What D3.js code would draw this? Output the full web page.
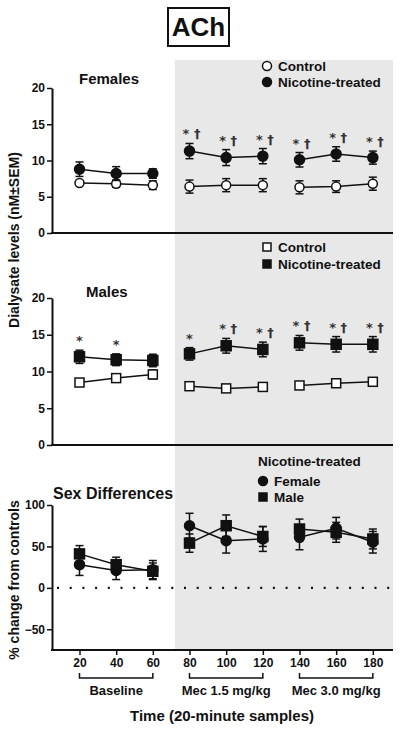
<!DOCTYPE html>
<html><head><meta charset="utf-8">
<script src="https://cdn.jsdelivr.net/npm/d3@7"></script>
<style>body{margin:0;background:#fff}svg{display:block}text{font-family:Arial,"Liberation Sans",sans-serif;font-weight:bold;fill:#111}</style>
</head><body><svg id="c" width="400" height="730"></svg>
<script>
const times = [20,40,60,80,100,120,140,160,180];
const femaleControl = [6.9,6.8,6.6,6.4,6.6,6.6,6.3,6.4,6.8];
const femaleControlErr = [0.3,0.5,0.6,0.9,0.9,0.9,0.9,0.8,0.9];
const femaleNic = [8.8,8.2,8.2,11.3,10.4,10.6,10.1,10.9,10.4];
const femaleNicErr = [1.0,0.95,0.65,1.05,1.1,1.05,1.0,1.0,0.9];
const femaleSig = ["","","","*†","*†","*†","*†","*†","*†"];
const maleControl = [8.5,9.1,9.6,8.0,7.7,7.9,8.1,8.4,8.6];
const maleControlErr = [0.3,0.5,0.6,0.3,0.2,0.2,0.2,0.2,0.2];
const maleNic = [12.0,11.6,11.5,12.4,13.5,13.0,13.9,13.7,13.7];
const maleNicErr = [0.9,0.8,0.85,0.85,1.0,1.0,1.0,1.05,1.05];
const maleSig = ["*","*","","*","*†","*†","*†","*†","*†"];
const femalePct = [28,21,22,75,57,59,61,72,55];
const femalePctErr = [13,11,11,15,15,15,15,13,13];
const malePct = [41,28,20,54,75,62,71,67,59];
const malePctErr = [10,9,10,11,13,12,12,12,12];
const levelTicks = [0,5,10,15,20];
const pctTicks = [-50,0,50,100];
const phases = [{label:"Baseline",from:20,to:60},{label:"Mec 1.5 mg/kg",from:80,to:120},{label:"Mec 3.0 mg/kg",from:140,to:180}];

const svg = d3.select("#c");
const x = d3.scaleLinear().domain([5,191]).range([52,393]);
const yF = d3.scaleLinear().domain([0,20]).range([233,88]);
const yM = d3.scaleLinear().domain([0,20]).range([445,298]);
const yS = d3.scaleLinear().domain([-75,100]).range([650,505]);

// gray drug region
svg.append("rect").attr("x",x(72)).attr("y",60).attr("width",x(191)-x(72)).attr("height",650-60).attr("fill","#e8e8e8");

// title box
svg.append("rect").attr("x",168).attr("y",8).attr("width",61).attr("height",38).attr("fill","#fff").attr("stroke","#111").attr("stroke-width",2);
svg.append("text").attr("x",198.5).attr("y",36).attr("text-anchor","middle").attr("font-size",26).text("ACh");

function yAxis(scale, ticks){
  const g = svg.append("g").attr("transform","translate(52,0)")
    .call(d3.axisLeft(scale).tickValues(ticks).tickSize(5).tickPadding(2).tickSizeOuter(0));
  g.select(".domain").attr("stroke","#111").attr("stroke-width",2);
  g.selectAll(".tick line").attr("stroke","#111").attr("stroke-width",1.5);
  g.selectAll(".tick text").attr("font-size",12).attr("font-family","Arial, 'Liberation Sans', sans-serif").attr("font-weight","bold").attr("fill","#111");
  return g;
}
function xLine(y){
  svg.append("line").attr("x1",51).attr("x2",393).attr("y1",y).attr("y2",y).attr("stroke","#111").attr("stroke-width",2);
}

function series(yScale, vals, errs, shape, filled){
  const pts = times.map((t,i)=>({t,v:vals[i],e:errs[i],i}));
  const groups = [pts.slice(0,3),pts.slice(3,6),pts.slice(6,9)];
  const line = d3.line().x(d=>x(d.t)).y(d=>yScale(d.v));
  groups.forEach(g=>svg.append("path").attr("d",line(g)).attr("fill","none").attr("stroke","#111").attr("stroke-width",1.5));
  pts.forEach(d=>{
    const cx=x(d.t), top=yScale(d.v+d.e), bot=yScale(d.v-d.e);
    svg.append("line").attr("x1",cx).attr("x2",cx).attr("y1",top).attr("y2",bot).attr("stroke","#111").attr("stroke-width",1.5);
    [top,bot].forEach(yy=>svg.append("line").attr("x1",cx-4).attr("x2",cx+4).attr("y1",yy).attr("y2",yy).attr("stroke","#111").attr("stroke-width",1.5));
  });
  pts.forEach(d=>marker(x(d.t), yScale(d.v), shape, filled));
  return pts;
}
function marker(cx, cy, shape, filled){
  if(shape==="circle"){
    svg.append("circle").attr("cx",cx).attr("cy",cy).attr("r",filled?5:4.5)
      .attr("fill",filled?"#111":"#fff").attr("stroke","#111").attr("stroke-width",1.5);
  } else {
    const s = filled?10:9;
    svg.append("rect").attr("x",cx-s/2).attr("y",cy-s/2).attr("width",s).attr("height",s)
      .attr("fill",filled?"#111":"#fff").attr("stroke","#111").attr("stroke-width",1.5);
  }
}
function sig(yScale, vals, errs, labels){
  labels.forEach((l,i)=>{
    if(!l) return;
    svg.append("text").attr("x",x(times[i])+ (l.length>1?2:0)).attr("y",yScale(vals[i]+errs[i])-5)
      .attr("text-anchor","middle").attr("font-size",13).attr("font-weight","normal")
      .style("font-family","'DejaVu Sans', sans-serif").style("fill","#333").text(l.split("").join(" "));
  });
}
function legendItem(x0, y0, shape, filled, label){
  if(shape==="circle") svg.append("circle").attr("cx",x0).attr("cy",y0).attr("r",4.5).attr("fill",filled?"#111":"#fff").attr("stroke","#111").attr("stroke-width",1.5);
  else svg.append("rect").attr("x",x0-4).attr("y",y0-4).attr("width",8).attr("height",8).attr("fill",filled?"#111":"#fff").attr("stroke","#111").attr("stroke-width",1.5);
  svg.append("text").attr("x",x0+11).attr("y",y0+5).attr("font-size",13.5).text(label);
}

// Females
yAxis(yF, levelTicks); xLine(233);
svg.append("text").attr("x",79).attr("y",84).attr("font-size",15).text("Females");
series(yF, femaleControl, femaleControlErr, "circle", false);
series(yF, femaleNic, femaleNicErr, "circle", true);
sig(yF, femaleNic, femaleNicErr, femaleSig);
legendItem(267,66,"circle",false,"Control");
legendItem(267,82,"circle",true,"Nicotine-treated");

// Males
yAxis(yM, levelTicks); xLine(445);
svg.append("text").attr("x",86).attr("y",297).attr("font-size",15).text("Males");
series(yM, maleControl, maleControlErr, "square", false);
series(yM, maleNic, maleNicErr, "square", true);
sig(yM, maleNic, maleNicErr, maleSig);
legendItem(267,247,"square",false,"Control");
legendItem(267,264,"square",true,"Nicotine-treated");

// Sex differences
yAxis(yS, pctTicks);
svg.append("line").attr("x1",57).attr("x2",393).attr("y1",yS(0)).attr("y2",yS(0)).attr("stroke","#111").attr("stroke-width",2.2).attr("stroke-dasharray","2 10.7");
svg.append("text").attr("x",53).attr("y",499).attr("font-size",16).text("Sex Differences");
series(yS, femalePct, femalePctErr, "circle", true);
series(yS, malePct, malePctErr, "square", true);
svg.append("text").attr("x",258).attr("y",466).attr("font-size",13.5).text("Nicotine-treated");
legendItem(263,481,"circle",true,"Female");
legendItem(263,497,"square",true,"Male");

// bottom x axis
const gx = svg.append("g").attr("transform","translate(0,650)")
  .call(d3.axisBottom(x).tickValues(times).tickSize(5).tickPadding(3).tickSizeOuter(0));
gx.select(".domain").attr("stroke","#111").attr("stroke-width",2).attr("d","M51,0H393");
gx.selectAll(".tick line").attr("stroke","#111").attr("stroke-width",1.5);
gx.selectAll(".tick text").attr("font-size",12).attr("font-family","Arial, 'Liberation Sans', sans-serif").attr("font-weight","bold").attr("fill","#111");

phases.forEach(p=>{
  const x1=x(p.from), x2=x(p.to);
  svg.append("path").attr("d",`M${x1},673V678H${x2}V673`).attr("fill","none").attr("stroke","#111").attr("stroke-width",1.5);
  svg.append("text").attr("x",(x1+x2)/2).attr("y",695).attr("text-anchor","middle").attr("font-size",13).text(p.label);
});
svg.append("text").attr("x",222).attr("y",721).attr("text-anchor","middle").attr("font-size",15).text("Time (20-minute samples)");

// y labels
svg.append("text").attr("transform","translate(19,240) rotate(-90)").attr("text-anchor","middle").attr("font-size",14).text("Dialysate levels (nM±SEM)");
svg.append("text").attr("transform","translate(19,580) rotate(-90)").attr("text-anchor","middle").attr("font-size",14).text("% change from controls");
</script></body></html>
